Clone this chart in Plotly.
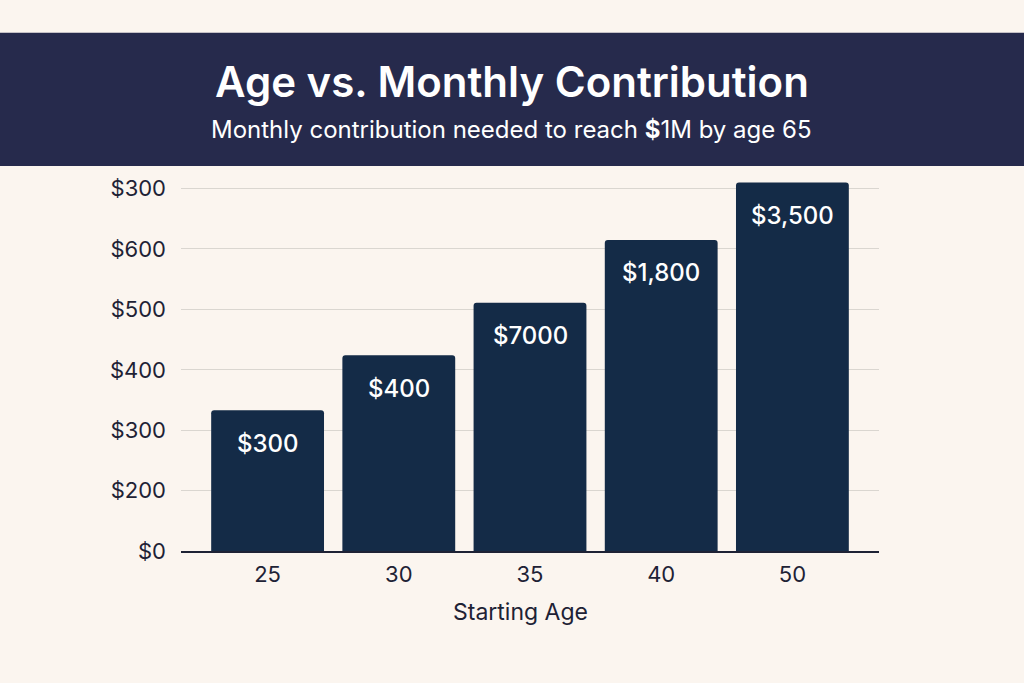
import plotly.graph_objects as go

# Data
ages = ["25", "30", "35", "40", "50"]
bar_heights = [2.33, 3.24, 4.11, 5.15, 6.10]  # in axis tick steps
bar_labels = ["$300", "$400", "$7000", "$1,800", "$3,500"]
tick_positions = [0, 1, 2, 3, 4, 5, 6]
tick_labels = ["$0", "$200", "$300", "$400", "$500", "$600", "$300"]

BG = "#FBF5EF"
NAVY = "#262A4C"
BAR = "#142B47"
INK = "#1E2235"
FONT = "Inter"

fig = go.Figure()
fig.add_trace(go.Bar(
    x=ages,
    y=bar_heights,
    marker={"color": BAR, "line": {"width": 0}},
    hoverinfo="skip",
))

# value labels inside the bars, near the top
for i, (h, lab) in enumerate(zip(bar_heights, bar_labels)):
    fig.add_annotation(
        x=i, y=h, text=lab, showarrow=False,
        yanchor="middle", yshift=-33,
        font={"family": FONT, "size": 24, "color": "white", "weight": 500},
    )

# dark header band
fig.add_shape(type="rect", xref="paper", yref="paper",
              x0=-0.3, x1=1.3, y0=1.024, y1=1.378,
              fillcolor=NAVY, line={"width": 0}, layer="below")

fig.add_annotation(
    xref="paper", yref="paper", x=0.474, y=1.25,
    xanchor="center", yanchor="middle",
    text="Age vs. Monthly Contribution", showarrow=False,
    font={"family": FONT, "size": 42, "color": "white", "weight": 600},
)
fig.add_annotation(
    xref="paper", yref="paper", x=0.474, y=1.122,
    xanchor="center", yanchor="middle",
    text="Monthly contribution needed to reach <b>$</b>1M by age 65", showarrow=False,
    font={"family": FONT, "size": 24, "color": "white"},
)

# x axis title, placed like the reference (slightly left of centre)
fig.add_annotation(
    xref="paper", yref="paper", x=0.486, y=-0.162,
    xanchor="center", yanchor="middle",
    text="Starting Age", showarrow=False,
    font={"family": FONT, "size": 23, "color": INK},
)

fig.update_layout(
    width=1024, height=683,
    margin={"l": 181, "r": 145, "t": 175, "b": 132},
    paper_bgcolor=BG, plot_bgcolor=BG,
    bargap=0.14,
    barcornerradius=3,
    showlegend=False,
    font={"family": FONT, "color": INK},
    xaxis={
        "type": "category",
        "range": [-0.66, 4.66],
        "showgrid": False,
        "showline": True, "linecolor": INK, "linewidth": 1.5,
        "ticks": "", "tickfont": {"size": 22, "color": INK},
        "ticklabelstandoff": 3,
        "fixedrange": True,
    },
    yaxis={
        "range": [0, 6.225],
        "tickvals": tick_positions,
        "ticktext": tick_labels,
        "showgrid": True, "gridcolor": "#DAD6D0", "gridwidth": 1,
        "zeroline": False,
        "ticks": "", "tickfont": {"size": 22, "color": INK},
        "ticklabelstandoff": 14,
        "fixedrange": True,
    },
)

fig.write_html("out.html", config={"displayModeBar": False},
               post_script="document.body.style.margin='0';")
